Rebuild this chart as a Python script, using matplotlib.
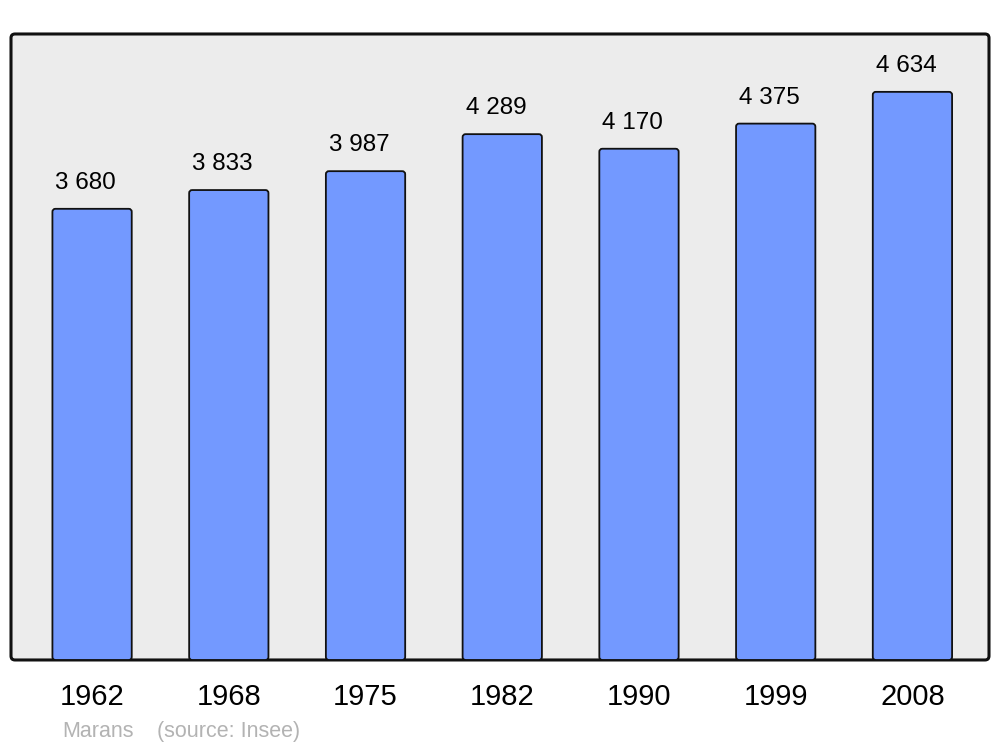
import matplotlib.pyplot as plt
from matplotlib.patches import FancyBboxPatch

years = ["1962", "1968", "1975", "1982", "1990", "1999", "2008"]
population = [3680, 3833, 3987, 4289, 4170, 4375, 4634]
value_labels = ["3 680", "3 833", "3 987", "4 289", "4 170", "4 375", "4 634"]

plt.rcParams["font.family"] = ["Liberation Sans", "DejaVu Sans"]

fig = plt.figure(figsize=(10, 7.47), dpi=100)
ax = fig.add_axes([0.011, 0.1165, 0.978, 0.838])
ax.set_facecolor("none")
ax.set_zorder(2)

# rounded frame behind the axes
frame = FancyBboxPatch((0.011, 0.1165), 0.978, 0.838,
                       boxstyle="round,pad=0,rounding_size=0.004",
                       mutation_aspect=1000 / 747,
                       transform=fig.transFigure, facecolor="#ececec",
                       edgecolor="#111111", linewidth=2.2, zorder=-1)
fig.patches.append(frame)

x = range(len(years))
bars = ax.bar(x, population, width=0.58, color="#7399ff",
              edgecolor="#111111", linewidth=1.3)

ax.set_xlim(-0.593, 6.56)
ax.set_ylim(0, 5106)

# swap plain bars for slightly rounded ones
y_per_px = 5106 / 626
x_per_px = 7.153 / 978
for b in bars:
    b.set_visible(False)
    rp = FancyBboxPatch((b.get_x(), b.get_y()), b.get_width(), b.get_height(),
                        boxstyle="round,pad=0,rounding_size=%f" % (3 * x_per_px),
                        mutation_aspect=y_per_px / x_per_px,
                        facecolor="#7399ff", edgecolor="#111111",
                        linewidth=1.3, zorder=2)
    ax.add_patch(rp)

for i, (v, lab) in enumerate(zip(population, value_labels)):
    ax.annotate(lab, (i, v), xytext=(-4.5, 18.5), textcoords="offset points",
                ha="center", va="center", fontsize=17.5, color="black")

for s in ax.spines.values():
    s.set_visible(False)
ax.set_yticks([])
ax.set_xticks(list(x))
ax.set_xticklabels(years, fontsize=21)
ax.tick_params(axis="x", length=0, pad=16.5)
for t in ax.get_xticklabels():
    t.set_x(t.get_position()[0])

fig.text(0.062, 1 - 731.5 / 747, "Marans", color="#b3b3b3", fontsize=15.5,
         ha="left", va="center")
fig.text(0.157, 1 - 731.5 / 747, "(source: Insee)", color="#b3b3b3",
         fontsize=15.5, ha="left", va="center")

fig.savefig("out.png", dpi=100)
